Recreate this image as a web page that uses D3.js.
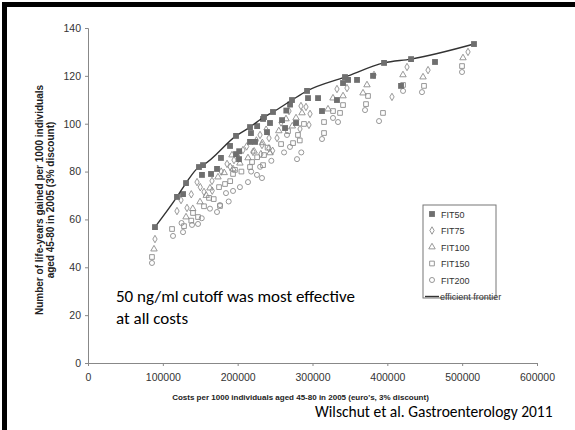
<!DOCTYPE html>
<html>
<head>
<meta charset="utf-8">
<script src="https://cdn.jsdelivr.net/npm/d3@7"></script>
<style>
  html, body { margin: 0; padding: 0; background: #fff; overflow: hidden; }
  svg { display: block; }
  .tick text { font-family: "Liberation Sans Narrow", "Liberation Sans", Arial, sans-serif; font-size: 10.5px; fill: #333; }
  .axis path, .axis line { stroke: #888; }
</style>
</head>
<body>
<div id="chart"></div>
<script>
// cost per 1000 individuals (euro) and life-years gained per 1000
const frontier = [
  [89500, 56.8], [118900, 69.4], [131000, 75.2], [148300, 81.9], [153700, 82.7],
  [197800, 94.9], [216500, 98.6], [235200, 102.8], [247200, 104.9], [272600, 109.9],
  [292700, 113.7], [343400, 119.5], [395600, 125.4], [431700, 127.0], [515800, 133.3]
];
const fit50 = [
  [127000, 70.6], [152300, 78.6], [164400, 79.0], [172400, 81.1], [177700, 85.7],
  [189800, 90.7], [197800, 87.3], [201800, 85.2], [202000, 88.5], [216500, 92.4],
  [223200, 92.4], [217800, 96.1], [226000, 99.0], [239200, 96.5], [233900, 102.0],
  [243200, 100.3], [259300, 101.5], [263300, 98.2], [265000, 105.5], [270000, 108.0],
  [278000, 100.3], [294000, 110.7], [307400, 110.7], [312700, 105.3], [332700, 109.9],
  [340800, 117.0], [347500, 118.3], [359500, 118.3], [380900, 120.0], [418300, 115.8],
  [463700, 125.8]
];
const fit75 = [
  [89500, 51.8], [118900, 63.5], [124300, 68.1], [132300, 64.8], [138000, 70.5],
  [145700, 75.6], [150000, 73.5], [155000, 71.5], [165700, 76.1], [166000, 72.0],
  [178000, 80.0], [185800, 83.2], [190000, 82.0], [195100, 84.8], [200000, 86.5],
  [207100, 89.0], [212000, 90.5], [220500, 88.2], [225000, 93.0], [229900, 95.3],
  [232500, 91.1], [238000, 97.5], [241900, 94.0], [252600, 94.0], [246700, 88.7],
  [241700, 89.7], [231000, 87.3], [258000, 100.5], [268600, 105.3], [284600, 107.4],
  [291300, 107.0], [296700, 104.1], [283300, 97.8], [295300, 99.5], [332700, 114.5],
  [346100, 114.9], [382200, 120.4], [406200, 111.2], [426300, 123.7], [454400, 122.4],
  [507800, 130.0]
];
const fit100 = [
  [88200, 47.6], [131000, 61.0], [140000, 64.5], [149700, 67.3], [158000, 70.0],
  [163000, 73.1], [173700, 77.7], [182000, 79.5], [192400, 86.9], [193800, 81.1],
  [203000, 83.5], [213800, 85.7], [222000, 88.5], [233000, 92.0], [243200, 87.8],
  [255000, 97.0], [264600, 102.0], [273000, 99.0], [278000, 102.4], [286000, 104.5],
  [320700, 106.1], [327400, 110.7], [340800, 111.6], [367500, 112.8], [372800, 116.2],
  [420900, 120.4], [447700, 119.5], [501100, 127.5]
];
const fit150 = [
  [85500, 44.3], [112300, 56.0], [128300, 57.2], [138000, 59.5], [140300, 62.7],
  [147000, 61.0], [155000, 65.5], [161700, 69.0], [168000, 68.5], [176400, 65.6],
  [175100, 73.5], [183100, 74.8], [190000, 76.0], [193800, 79.0], [196400, 80.7],
  [205000, 80.0], [216500, 81.9], [219200, 84.0], [226000, 86.0], [233900, 82.7],
  [235200, 86.9], [240000, 90.0], [258000, 91.5], [267300, 96.9], [274000, 91.9],
  [280600, 95.3], [283000, 93.0], [288600, 99.9], [315400, 100.7], [315400, 96.1],
  [327400, 105.3], [336800, 104.5], [340800, 107.8], [374200, 111.6], [371500, 108.2],
  [394200, 104.5], [421000, 116.2], [449000, 115.8], [499800, 124.1]
];
const fit200 = [
  [85500, 41.8], [113600, 53.1], [125000, 58.5], [127000, 54.7], [139000, 57.7],
  [147000, 58.1], [152000, 60.5], [163000, 64.5], [172400, 63.1], [176400, 66.0],
  [184400, 71.0], [188000, 67.5], [193800, 71.9], [203000, 73.5], [213800, 75.6],
  [218000, 80.0], [225800, 78.6], [230000, 82.0], [232500, 77.3], [245000, 84.5],
  [262000, 88.0], [265900, 95.3], [269900, 90.3], [279300, 85.2], [285000, 88.0],
  [312700, 93.6], [327400, 102.4], [334100, 100.7], [370200, 105.7], [388900, 101.1],
  [421000, 113.7], [446300, 113.2], [499800, 121.6]
];
const xTicks = [0, 100000, 200000, 300000, 400000, 500000, 600000];
const yTicks = [0, 20, 40, 60, 80, 100, 120, 140];
const legendLabels = ["FIT50", "FIT75", "FIT100", "FIT150", "FIT200", "efficient frontier"];

const width = 575, height = 430;
const margin = {top: 28, right: 38, bottom: 67, left: 88};
const innerWidth = width - margin.left - margin.right;
const innerHeight = height - margin.top - margin.bottom;

const root = d3.select("#chart").append("svg")
  .attr("width", width)
  .attr("height", height);

// slide frame
root.append("rect").attr("x", 2).attr("y", 2).attr("width", 5).attr("height", height).attr("fill", "#000");
root.append("rect").attr("x", 2).attr("y", 2).attr("width", width).attr("height", 5).attr("fill", "#000");

const svg = root.append("g").attr("transform", `translate(${margin.left},${margin.top})`);

const xScale = d3.scaleLinear().domain([0, 600000]).range([0, innerWidth]);
const yScale = d3.scaleLinear().domain([0, 140]).range([innerHeight, 0]);

svg.append("g")
  .attr("class", "x axis")
  .attr("transform", `translate(0,${innerHeight})`)
  .call(d3.axisBottom(xScale).tickValues(xTicks).tickFormat(d3.format("d")).tickSizeOuter(0).tickSize(3).tickPadding(8));

svg.append("g")
  .attr("class", "y axis")
  .call(d3.axisLeft(yScale).tickValues(yTicks).tickSizeOuter(0).tickSize(3).tickPadding(4));

const styles = {
  FIT50: {type: d3.symbolSquare, size: 34, fill: "#6f6f6f", stroke: "none"},
  FIT75: {type: d3.symbolDiamond, size: 16, fill: "none", stroke: "#8c8c8c"},
  FIT100: {type: d3.symbolTriangle, size: 18, fill: "none", stroke: "#8c8c8c"},
  FIT150: {type: d3.symbolSquare, size: 22, fill: "none", stroke: "#8c8c8c"},
  FIT200: {type: d3.symbolCircle, size: 20, fill: "none", stroke: "#8c8c8c"}
};

const drawSeries = (name, data, cls) => {
  const s = styles[name];
  svg.selectAll("." + cls)
    .data(data)
    .enter()
    .append("path")
    .attr("class", cls)
    .attr("d", d3.symbol().type(s.type).size(s.size))
    .attr("transform", d => `translate(${xScale(d[0])},${yScale(d[1])})`)
    .attr("fill", s.fill)
    .attr("stroke", s.stroke)
    .attr("stroke-width", 0.9);
};

drawSeries("FIT200", fit200, "pt-fit200");
drawSeries("FIT150", fit150, "pt-fit150");
drawSeries("FIT100", fit100, "pt-fit100");
drawSeries("FIT75", fit75, "pt-fit75");
drawSeries("FIT50", fit50, "pt-fit50");

svg.append("path")
  .datum(frontier)
  .attr("fill", "none")
  .attr("stroke", "#333")
  .attr("stroke-width", 1.4)
  .attr("d", d3.line().x(d => xScale(d[0])).y(d => yScale(d[1])).curve(d3.curveMonotoneX));

drawSeries("FIT50", frontier, "pt-frontier");

// axis titles
svg.append("text")
  .attr("x", innerWidth / 2 - 12)
  .attr("y", innerHeight + 37)
  .attr("text-anchor", "middle")
  .style("font-family", "Liberation Sans, Arial, sans-serif")
  .style("font-weight", "bold")
  .style("font-size", "8px")
  .attr("fill", "#222")
  .text("Costs per 1000 individuals aged 45-80 in 2005 (euro's, 3% discount)");

const yTitle = root.append("text")
  .attr("transform", "translate(0,200) rotate(-90)")
  .attr("text-anchor", "middle")
  .style("font-family", "Liberation Sans, Arial, sans-serif")
  .style("font-weight", "bold")
  .style("font-size", "10px")
  .attr("fill", "#222");
yTitle.append("tspan").attr("x", 0).attr("y", 43).text("Number of life-years gained per 1000 individuals");
yTitle.append("tspan").attr("x", 0).attr("y", 54).text("aged 45-80 in 2005 (3% discount)");

// legend
const legend = root.append("g").attr("transform", "translate(423,205)");
legend.append("rect").attr("width", 73).attr("height", 93).attr("fill", "#fff").attr("stroke", "#777").attr("stroke-width", 1);
legendLabels.forEach((label, i) => {
  const y = 9 + i * 16.5;
  if (styles[label]) {
    const s = styles[label];
    legend.append("path")
      .attr("d", d3.symbol().type(s.type).size(s.size))
      .attr("transform", `translate(9,${y})`)
      .attr("fill", s.fill).attr("stroke", s.stroke).attr("stroke-width", 0.9);
  } else {
    legend.append("line").attr("x1", 2).attr("x2", 16).attr("y1", y).attr("y2", y).attr("stroke", "#333").attr("stroke-width", 1.4);
  }
  legend.append("text")
    .attr("x", label.length > 8 ? 17 : 18)
    .attr("y", y + 3.5)
    .style("font-family", "Liberation Sans Narrow, Liberation Sans, Arial, sans-serif")
    .style("font-size", "9px")
    .attr("fill", "#333")
    .text(label);
});

// slide annotations
const note = root.append("text")
  .style("font-family", "Carlito, Lato, sans-serif")
  .style("font-size", "17px")
  .attr("fill", "#000");
note.append("tspan").attr("x", 116).attr("y", 302).text("50 ng/ml cutoff was most effective");
note.append("tspan").attr("x", 116).attr("y", 324).text("at all costs");

root.append("text")
  .attr("x", 315).attr("y", 417)
  .style("font-family", "Carlito, Lato, sans-serif")
  .style("font-size", "15.5px")
  .attr("fill", "#000")
  .text("Wilschut et al. Gastroenterology 2011");
</script>
</body>
</html>
